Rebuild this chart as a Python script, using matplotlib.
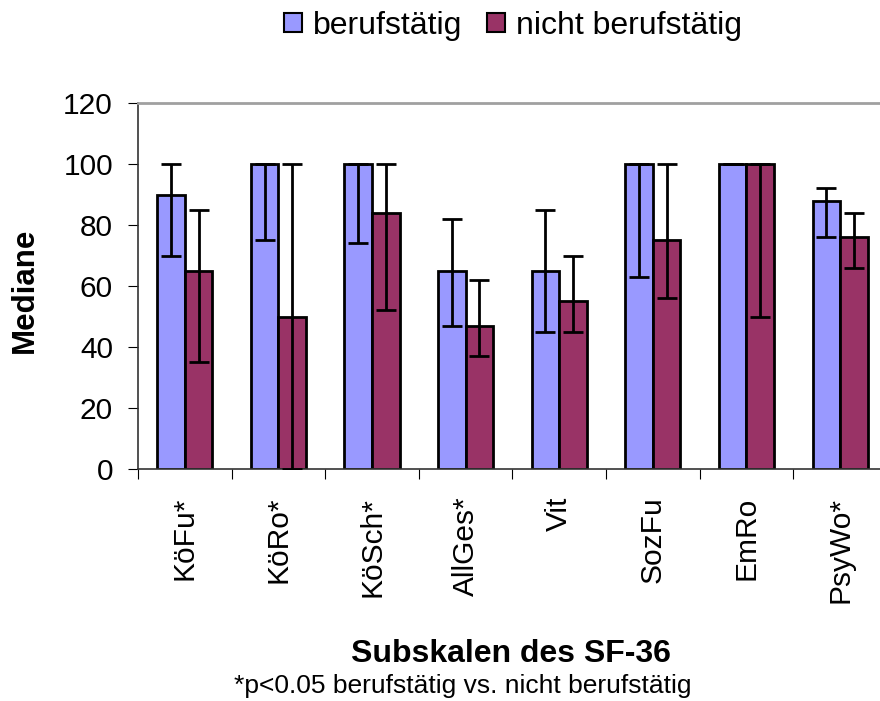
import numpy as np
import matplotlib.pyplot as plt
from matplotlib.patches import Patch

plt.rcParams['font.family'] = ['Liberation Sans', 'DejaVu Sans']

# --- Data ---
categories = ["KöFu*", "KöRo*", "KöSch*", "AllGes*", "Vit", "SozFu", "EmRo", "PsyWo*"]

# berufstätig: median, lower and upper end of the error bar
work_median = [90, 100, 100, 65, 65, 100, 100, 88]
work_low = [70, 75, 74, 47, 45, 63, 100, 76]
work_high = [100, 100, 100, 82, 85, 100, 100, 92]

# nicht berufstätig
nowork_median = [65, 50, 84, 47, 55, 75, 100, 76]
nowork_low = [35, 0, 52, 37, 45, 56, 50, 66]
nowork_high = [85, 100, 100, 62, 70, 100, 100, 84]

series_names = ["berufstätig", "nicht berufstätig"]
colors = ["#9999FF", "#993366"]
y_ticks = [0, 20, 40, 60, 80, 100, 120]

# --- Figure ---
fig = plt.figure(figsize=(8.8, 7.01), dpi=100)
ax = fig.add_axes([0.1568, 0.331, 0.851, 0.522])

x = np.arange(len(categories))
w = 0.294

for off, med, lo, hi, col in [
    (-w / 2, work_median, work_low, work_high, colors[0]),
    (w / 2, nowork_median, nowork_low, nowork_high, colors[1]),
]:
    med = np.array(med)
    ax.bar(x + off, med, width=w, color=col, edgecolor="black", linewidth=2, zorder=2)
    yerr = np.vstack([med - np.array(lo), np.array(hi) - med])
    ax.errorbar(x + off, med, yerr=yerr, fmt="none", ecolor="black",
                elinewidth=2, capsize=7, capthick=2, zorder=3)

ax.set_xlim(-0.5, len(categories) - 0.5)
ax.set_ylim(0, 120)
ax.set_yticks(y_ticks)
ax.tick_params(axis="y", labelsize=21.5, length=7, width=0.8, pad=11, direction="out")

# category boundaries as major ticks, labels on minor ticks
ax.set_xticks(np.arange(-0.5, len(categories) + 0.5, 1))
ax.set_xticklabels([])
ax.set_xticks(x, minor=True)
ax.set_xticklabels(categories, minor=True, rotation=90, fontsize=21.5, va="top")
ax.tick_params(axis="x", which="major", length=7, width=0.8, direction="out")
ax.tick_params(axis="x", which="minor", length=0, pad=20)

for s in ["left", "bottom"]:
    ax.spines[s].set_color("#333333")
    ax.spines[s].set_linewidth(1.2)
ax.spines["top"].set_color("#a0a0a0")
ax.spines["top"].set_linewidth(2)
ax.spines["right"].set_visible(False)

# axis titles and footnote
fig.text(25 / 880, 1 - 290 / 701, "Mediane", rotation=90, fontsize=22.5,
         fontweight="bold", ha="center", va="center")
fig.text(511 / 880, 1 - 654 / 701, "Subskalen des SF-36", fontsize=23,
         fontweight="bold", ha="center", va="center")
fig.text(463 / 880, 1 - 686 / 701, "*p<0.05 berufstätig vs. nicht berufstätig",
         fontsize=19, ha="center", va="center")

handles = [Patch(facecolor=c, edgecolor="black", linewidth=1.5) for c in colors]
fig.legend(handles, series_names, loc="center", bbox_to_anchor=(513 / 880, 1 - 26 / 701),
           ncol=2, frameon=False, fontsize=23, handlelength=0.55, handleheight=0.55,
           handletextpad=0.34, columnspacing=0.78, borderpad=0, borderaxespad=0)

fig.savefig("out.png", dpi=100)
